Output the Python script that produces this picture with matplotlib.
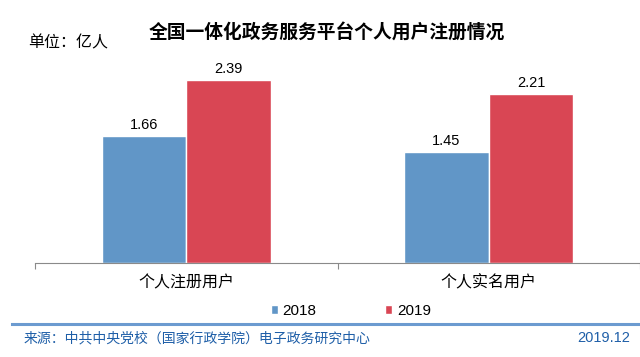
import numpy as np
import matplotlib.pyplot as plt

plt.rcParams['font.family'] = ['Noto Sans CJK SC', 'DejaVu Sans']

categories = ["个人注册用户", "个人实名用户"]
years = ["2018", "2019"]
v2018 = [1.66, 1.45]
v2019 = [2.39, 2.21]
colors = ["#6196C7", "#D94654"]

fig = plt.figure(figsize=(6.4, 3.57), dpi=100)
ax = fig.add_axes([35/640, 94/357, 1 - 35/640, 203/357])

x = np.arange(len(categories))
w = 0.28
b1 = ax.bar(x - w/2, v2018, w, color=colors[0], edgecolor="white", linewidth=1, label=years[0])
b2 = ax.bar(x + w/2, v2019, w, color=colors[1], edgecolor="white", linewidth=1, label=years[1])

for bars, vals in [(b1, v2018), (b2, v2019)]:
    for r, v in zip(bars, vals):
        ax.text(r.get_x() + r.get_width()/2, v + 0.05, "%.2f" % v, ha="center", va="bottom",
                fontsize=10.5, family="Liberation Sans")

ax.set_xlim(-0.5, 1.49)
ax.set_ylim(0, 2.65)
for s in ["top", "right", "left"]:
    ax.spines[s].set_visible(False)
ax.spines["bottom"].set_color("#8a8a8a")
ax.set_yticks([])
ax.set_xticks([-0.5, 0.5, 1.5])
ax.set_xticklabels([])
ax.tick_params(axis="x", length=4, color="#8a8a8a", direction="out")
for xi, c in zip(x, categories):
    ax.text(xi, -0.15, c, ha="center", va="top", fontsize=11.5)

fig.text(327/640, 1 - 32/357, "全国一体化政务服务平台个人用户注册情况", ha="center", va="center",
         fontsize=13.5, fontweight="bold")
fig.text(28/640, 1 - 43/357, "单位：亿人", ha="left", va="center", fontsize=11.5)

leg = fig.legend([b1, b2], years, loc="center", bbox_to_anchor=(351/640, 1 - 311/357), ncol=2,
                 frameon=False, handlelength=0.45, handleheight=0.45, handletextpad=0.3,
                 columnspacing=4.5, prop={"family": "Liberation Sans", "size": 11})

fig.add_artist(plt.Line2D([12/640, 1], [1 - 324/357] * 2, color="#6C9BD0", linewidth=2.2))
fig.text(24/640, 1 - 338/357, "来源：中共中央党校（国家行政学院）电子政务研究中心", ha="left", va="center",
         fontsize=10, color="#1F5FA8")
fig.text(630/640, 1 - 338/357, "2019.12", ha="right", va="center", fontsize=10.5, color="#1F5FA8",
         family="Liberation Sans")

fig.savefig("out.png", dpi=100)
